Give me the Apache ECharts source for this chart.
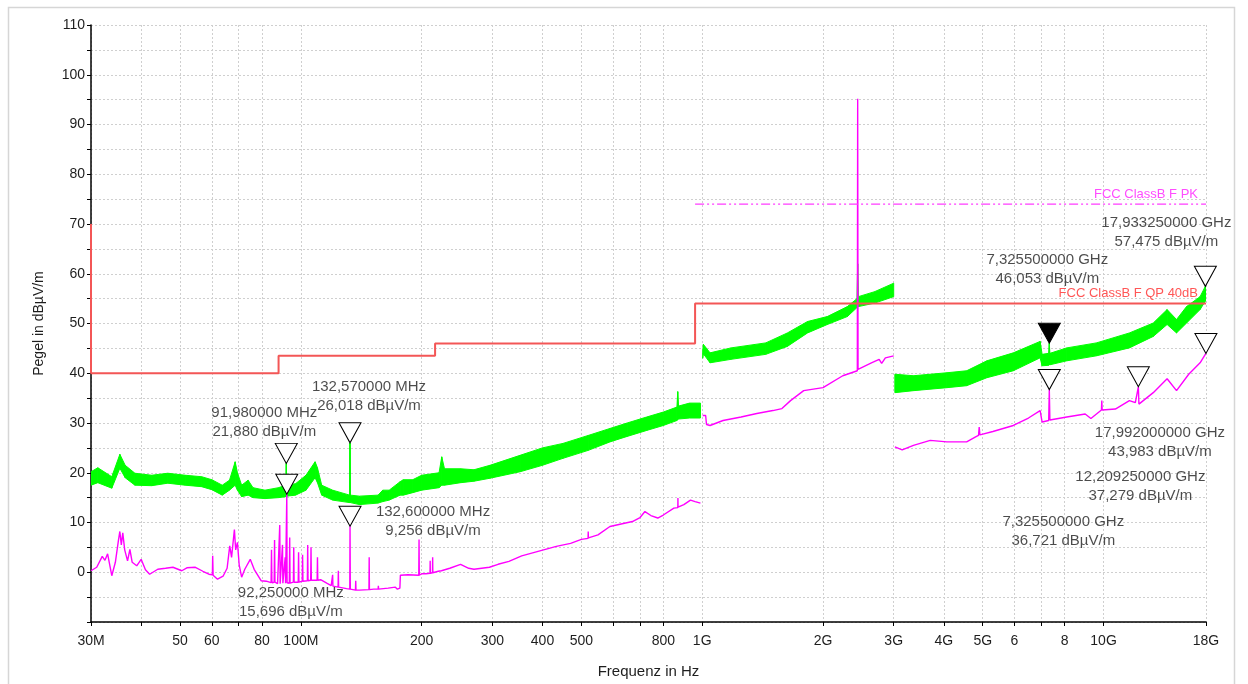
<!DOCTYPE html>
<html>
<head>
<meta charset="utf-8">
<title>EMV Messung</title>
<style>
  html, body { margin: 0; padding: 0; background: #fff; }
  #chart { width: 1248px; height: 684px; }
</style>
<script src="https://cdn.jsdelivr.net/npm/echarts@6/dist/echarts.min.js"></script>
</head>
<body>
<div id="chart"></div>
<script>
// frequencies in MHz, levels in dBµV/m

// x axis ticks and labels
var xTickValues = [30, 40, 50, 60, 70, 80, 100, 200, 300, 400, 500, 600, 700, 800,
  1000, 2000, 3000, 4000, 5000, 6000, 7000, 8000, 10000, 18000];
var xLabelValues = [30, 50, 60, 80, 100, 200, 300, 400, 500, 800,
  1000, 2000, 3000, 4000, 5000, 6000, 8000, 10000, 18000];
var xLabelTexts = ['30M', '50', '60', '80', '100M', '200', '300', '400', '500', '800',
  '1G', '2G', '3G', '4G', '5G', '6', '8', '10G', '18G'];

// peak trace (green), read as a band: [freq, low, high]
var greenTrace = [
  [30, 17.5, 20.2], [31.2, 18, 21], [33.8, 16.9, 19.2], [35.4, 20.9, 23.7], [36.5, 19, 21.5],
  [38.6, 17.5, 19.9], [42.5, 17.4, 19.5], [46.6, 17.9, 19.9], [51.5, 17.5, 19.5], [56.6, 17.2, 19.2],
  [60, 16.6, 18.6], [63.7, 15.5, 17.5], [66.4, 16.5, 18.5], [68.6, 17.5, 22.2], [69.5, 16.5, 20],
  [71.2, 15.2, 17.5], [73.9, 15.5, 18.5], [76, 15, 17], [81.4, 14.8, 16.5], [88, 15, 17],
  [91.7, 15.2, 17.5], [91.98, 15.5, 21.9], [92.3, 15.3, 17.5], [97, 15.5, 17.8], [103, 16.5, 19.5],
  [108.5, 19, 22.2], [110, 18, 21], [112.7, 15.5, 17.5], [120, 14.5, 16.5], [132.3, 14, 15.5],
  [132.57, 14.5, 26.0], [132.85, 14, 15.5], [140, 13.6, 15.3], [155.7, 13.9, 15.5], [160, 14.2, 16.5],
  [166, 14.5, 16.5], [176.7, 15.5, 18.2], [180, 15.5, 18.6], [190, 16, 18.6], [200, 16.5, 19.5],
  [221, 17, 20], [224.4, 17.5, 23.2], [228, 17.5, 20.8], [250, 18, 20.8], [270, 18.3, 20.6],
  [296, 18.9, 21.5], [351.7, 20.2, 23.5], [400, 21.5, 25], [450, 22.9, 25.9], [520, 24.5, 27.5],
  [589, 26.2, 28.9], [650, 27.3, 30], [727, 28.5, 31.2], [800, 29.5, 32.2], [865, 30.5, 33.2],
  [869, 30.7, 36.3], [873, 30.8, 33.4], [930, 31, 34], [990, 31, 34],
  [995, null, null],
  [1003, 43, 44.5], [1007, 43.9, 45.8], [1046, 42.1, 44.1], [1180, 42.8, 45.1], [1440, 43.8, 46.1],
  [1630, 45.4, 48.1], [1830, 48.1, 50.4], [2050, 49.8, 51.4], [2300, 51.4, 53.4], [2430, 53.2, 55],
  [2440, 53.4, 62], [2450, 53.4, 55.4], [2690, 54.1, 56.4], [3000, 55.4, 58.1],
  [3010, null, null],
  [3020, 36.1, 39.8], [3360, 36.5, 39.5], [4070, 37.1, 40.1], [4560, 37.5, 40.5], [5120, 39.1, 42.5],
  [5960, 40.5, 44.1], [6950, 43.1, 46.4], [7030, 41.5, 43.8], [7300, 41.6, 44], [7325.5, 41.8, 46.05],
  [7350, 41.7, 44], [8100, 42.5, 45.1], [9600, 43.5, 46.1], [11600, 45.1, 48.1], [13300, 47.4, 50.1],
  [14400, 49.8, 52.8], [15200, 48.1, 50.8], [16100, 50.1, 53.4], [17400, 52.8, 55.4],
  [17933.25, 54.5, 57.48], [18000, 54.6, 57.5]
];

// average trace (magenta): [freq, level]
var magentaTrace = [
  [30, 0.3], [31, 1.0], [32, 3.2], [32.5, 2.4], [33, 3.7], [33.8, -0.7], [34.5, 2], [35.1, 6.3],
  [35.4, 8.2], [35.7, 5.5], [36, 7.9], [36.4, 4.5], [37, 2.3], [37.5, 4.6], [38, 2], [39, 1.3],
  [40, 2.6], [41, 0.5], [42, -0.4], [44, 0.6], [46, 0.8], [48, 1.0], [50.5, 0.3], [52, 0.9],
  [54.6, 1.0], [57, 0.2], [59, -0.4], [60.2, -0.5], [60.3, 3.3], [60.45, -0.6], [62, -1.4],
  [64, -0.8], [65.5, 0.8], [66.5, 5.3], [67.2, 3], [68.3, 8.6], [68.8, 4.5], [69.5, 6], [70.2, 1.5],
  [71.2, -1], [72.5, 0.6], [74.8, 2.6], [76.5, 0.6], [79.6, -1.7], [82, -1.8],
  [84.3, -2.1], [84.5, 4.5], [84.7, -2.1], [85.8, -2], [86, 6.5], [86.2, -2], [87.5, -2.3],
  [88.6, 9.5], [88.8, -2.3], [89.8, -2.2], [90, 5.5], [90.2, -2.2], [91.2, -2.2], [91.4, 3],
  [91.6, -2.2], [92.1, -2.2], [92.25, 15.7], [92.4, -2.1], [93.6, -2.2], [93.8, 7], [94, -2.2],
  [95.8, -2], [96, 5], [96.2, -2], [98.5, -2], [98.7, 4], [98.9, -2], [100.8, -1.8], [101, 3.5],
  [101.2, -1.8], [103.8, -1.7], [104, 5.5], [104.2, -1.7], [105.8, -1.6], [106, 5], [106.2, -1.6],
  [109.8, -1.6], [110, 3], [110.2, -1.6], [112, -1.5], [116, -2.2], [119, -2.7], [119.8, -2.8],
  [120, -0.5], [120.2, -2.8], [123.8, -3], [124, 0.3], [124.2, -3], [130, -3.3], [132.4, -3.4],
  [132.6, 9.26], [132.8, -3.4], [136.8, -3.6], [137, -1.7], [137.2, -3.6], [140, -3.6],
  [147.8, -3.5], [148, 3], [148.2, -3.5], [152, -3.4], [155.8, -3.4], [156, -2.7], [156.2, -3.4],
  [165, -3.2], [172, -3.0], [174, -3.4], [176.5, -3.2], [177, -0.6], [185, -0.5], [196.7, -0.6],
  [197, 6.6], [197.3, -0.6], [200, -0.3], [205, -0.3], [209.8, -0.2], [210, 2.3], [210.2, -0.2],
  [212.8, -0.1], [213, 3], [213.2, -0.1], [220, 0.2], [224, 0.3], [235, 0.8], [250, 1.6],
  [262, 0.8], [270, 0.6], [295, 1.0], [310, 1.6], [330, 2.2], [355, 3.3], [390, 4.2], [433, 5.2],
  [470, 5.8], [500, 6.6], [519.5, 6.8], [520, 8.2], [520.5, 6.9], [550, 7.5], [589, 9.2],
  [620, 9.6], [670, 10.2], [700, 11], [720, 12.2], [745, 11.4], [775, 10.9], [800, 11.5],
  [850, 12.9], [869.5, 13], [870, 14.9], [870.5, 13.1], [900, 13.6], [935, 14.5], [960, 14.2],
  [990, 13.9],
  [995, null],
  [1003, 31.5], [1020, 31.5], [1025, 29.7], [1046, 29.5], [1127, 30.5], [1250, 31.2], [1368, 31.9],
  [1500, 32.5], [1580, 32.9], [1660, 34.5], [1790, 36.5], [2000, 37.1], [2240, 39.5], [2435, 40.5],
  [2440, 95.2], [2445, 40.8], [2640, 42.1], [2760, 42.8], [2800, 42], [2860, 43.1], [3000, 43.5],
  [3010, null],
  [3020, 25.2], [3150, 24.6], [3360, 25.5], [3700, 26.5], [4070, 26.2], [4560, 26.2], [4800, 27.2],
  [4880, 27.5], [4900, 29.2], [4920, 27.6], [5300, 28.3], [5960, 29.5], [6500, 31], [6950, 32.5],
  [7030, 30.2], [7300, 30.5], [7325.5, 36.72], [7350, 30.6], [8100, 31.2], [9000, 31.8],
  [9300, 30.9], [9880, 32.6], [9900, 34.5], [9920, 32.6], [10700, 32.8], [11600, 34.5],
  [12000, 34.1], [12209.25, 37.28], [12250, 33.8], [13300, 36.1], [14400, 38.9], [15200, 36.5],
  [16300, 39.8], [17400, 42.1], [17992, 43.98], [18000, 43.9]
];

// limit lines
var qpFreq = [30, 30, 88, 88, 216, 216, 960, 960, 18000];
var qpLevel = [70, 40, 40, 43.5, 43.5, 46, 46, 54, 54];
var pkFreq = [960, 18000];
var pkLevel = [74, 74];

// markers
var markerFreq = [91.98, 92.25, 132.57, 132.6, 7325.5, 7325.5, 12209.25, 17992, 17933.25];
var markerLevel = [21.88, 15.696, 26.018, 9.256, 46.053, 36.721, 37.279, 43.983, 57.475];
var markerActive = [false, false, false, false, true, false, false, false, false];
var markerLabelOffset = [[-22, -41], [4, 108], [19, -46], [83, -5], [-2, -74],
  [14, 142], [2, 100], [-46, 89], [-39, -54]];

var FONT = 'Liberation Sans, Arial, sans-serif';
var TEXT = '#1e1e1e';

function xLabel(v) {
  for (var i = 0; i < xLabelValues.length; i++) {
    if (Math.abs(Math.log10(v) - Math.log10(xLabelValues[i])) < 1e-6) return xLabelTexts[i];
  }
  return '';
}

function freqText(f) {
  var s = f < 1000 ? f.toFixed(6) + ' MHz' : (f / 1000).toFixed(9) + ' GHz';
  return s.replace('.', ',');
}

function levelText(v) {
  return v.toFixed(3).replace('.', ',') + ' dBµV/m';
}

// green band pieces: one quad between two neighbouring samples
var bandPieces = [];
for (var i = 0; i < greenTrace.length - 1; i++) {
  var a = greenTrace[i];
  var b = greenTrace[i + 1];
  if (a[1] == null || b[1] == null) continue;
  bandPieces.push([a[0], a[1], a[2], b[0], b[1], b[2]]);
}

function renderBand(params, api) {
  var p0 = api.coord([api.value(0), api.value(1)]);
  var p1 = api.coord([api.value(0), api.value(2)]);
  var p2 = api.coord([api.value(3), api.value(5)]);
  var p3 = api.coord([api.value(3), api.value(4)]);
  return {
    type: 'polygon',
    shape: { points: [p0, p1, p2, p3] },
    style: { fill: '#00ff00', stroke: '#00ff00', lineWidth: 1 }
  };
}

var chart = echarts.init(document.getElementById('chart'));

var option = {
  animation: false,
  backgroundColor: '#fff',
  textStyle: { fontFamily: FONT },
  graphic: [{
    type: 'rect', left: 6, top: 5, silent: true, z: -10,
    shape: { width: 1226, height: 700 },
    style: { fill: 'none', stroke: '#d6d6d6', lineWidth: 1.5 }
  }],
  grid: { left: 91, right: 42, top: 25, bottom: 57, containLabel: false },
  xAxis: {
    type: 'log',
    logBase: 10,
    min: 30,
    max: 18000,
    name: 'Frequenz in Hz',
    nameLocation: 'middle',
    nameGap: 42,
    nameTextStyle: { fontSize: 15, color: TEXT, fontFamily: FONT },
    axisLine: { show: true, onZero: false, lineStyle: { color: '#000', width: 1.5 } },
    axisTick: { show: true, customValues: xTickValues, length: 4, lineStyle: { color: '#000' } },
    axisLabel: {
      customValues: xLabelValues, formatter: xLabel,
      fontSize: 14, color: TEXT, fontFamily: FONT, margin: 12
    },
    splitLine: { show: true, lineStyle: { color: '#cfcfcf', type: [2, 2], width: 1 } },
    minorTick: { show: false },
    minorSplitLine: { show: false }
  },
  yAxis: {
    type: 'value',
    min: -10,
    max: 110,
    interval: 5,
    name: 'Pegel in dBµV/m',
    nameLocation: 'middle',
    nameGap: 45,
    nameTextStyle: { fontSize: 14, color: TEXT, fontFamily: FONT },
    axisLine: { show: true, onZero: false, lineStyle: { color: '#000', width: 1.5 } },
    axisTick: { show: true, length: 4, lineStyle: { color: '#000' } },
    axisLabel: {
      fontSize: 14, color: TEXT, fontFamily: FONT, margin: 6,
      formatter: function (v) { return v >= 0 && v % 10 === 0 ? String(v) : ''; }
    },
    splitLine: { show: true, lineStyle: { color: '#cfcfcf', type: [2, 2], width: 1 } }
  },
  series: [
    {
      name: 'PK', type: 'custom', silent: true, z: 2,
      renderItem: renderBand,
      encode: { x: [0, 3], y: [1, 2, 4, 5] },
      data: bandPieces,
      clip: true
    },
    {
      name: 'AV', type: 'line', silent: true, showSymbol: false,
      data: magentaTrace,
      lineStyle: { color: '#ff00ff', width: 1.4 }, z: 3
    },
    {
      name: 'FCC ClassB F QP 40dB', type: 'line', silent: true, showSymbol: false,
      data: qpFreq.map(function (f, i) { return [f, qpLevel[i]]; }),
      lineStyle: { color: '#f35656', width: 2 }, z: 4,
      markPoint: {
        symbol: 'rect', symbolSize: 1, itemStyle: { color: 'transparent' },
        label: {
          show: true, position: 'inside', align: 'right', offset: [-8, -10],
          formatter: 'FCC ClassB F QP 40dB', color: '#ff5656', fontSize: 13, fontFamily: FONT
        },
        data: [{ coord: [qpFreq[qpFreq.length - 1], qpLevel[qpLevel.length - 1]] }]
      }
    },
    {
      name: 'FCC ClassB F PK', type: 'line', silent: true, showSymbol: false,
      data: pkFreq.map(function (f, i) { return [f, pkLevel[i]]; }),
      lineStyle: { color: '#ff3cff', width: 1.3, type: [9, 3, 2, 3, 2, 3] }, z: 4,
      markPoint: {
        symbol: 'rect', symbolSize: 1, itemStyle: { color: 'transparent' },
        label: {
          show: true, position: 'inside', align: 'right', offset: [-8, -10],
          formatter: 'FCC ClassB F PK', color: '#ff4cff', fontSize: 13, fontFamily: FONT
        },
        data: [{ coord: [pkFreq[pkFreq.length - 1], pkLevel[pkLevel.length - 1]] }]
      }
    },
    {
      name: 'Marker', type: 'scatter', silent: true, z: 6,
      symbol: 'path://M0,0L22,0L11,20Z',
      symbolSize: [22, 20],
      symbolOffset: [0, -10],
      data: markerFreq.map(function (f, i) {
        return {
          value: [f, markerLevel[i]],
          itemStyle: {
            color: markerActive[i] ? '#000' : '#fff',
            borderColor: '#000', borderWidth: 1, opacity: 1
          }
        };
      })
    },
    {
      name: 'Marker text', type: 'scatter', silent: true, z: 7,
      symbol: 'rect', symbolSize: 1,
      itemStyle: { color: 'transparent' },
      data: markerFreq.map(function (f, i) {
        return {
          value: [f, markerLevel[i]],
          label: {
            show: true, position: 'inside', offset: markerLabelOffset[i],
            formatter: freqText(f) + '\n' + levelText(markerLevel[i]),
            fontSize: 15, lineHeight: 19, color: TEXT, fontFamily: FONT, align: 'center'
          }
        };
      })
    }
  ]
};

chart.setOption(option);
</script>
</body>
</html>
